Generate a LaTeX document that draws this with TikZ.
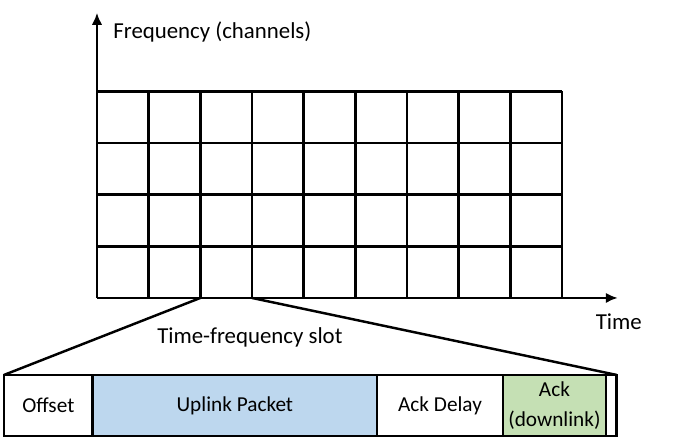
\documentclass[tikz,border=0pt]{standalone}
\usepackage{fontspec}
\setmainfont{Carlito}
\usetikzlibrary{positioning,arrows.meta}
\definecolor{uplink fill}{HTML}{BDD7EE}
\definecolor{ack fill}{HTML}{C5E0B4}
\tikzset{
  gridline/.style={draw=black, line width=1.4pt},
  axis/.style={draw=black, line width=1.4pt, -{Latex[length=2.4mm,width=2.1mm]}},
  axistext/.style={font=\fontsize{13}{15}\selectfont, inner sep=0pt},
  field/.style={draw=black, line width=1.4pt, minimum height=1.219cm,
    inner sep=0pt, outer sep=0pt, anchor=west, align=center,
    font=\fontsize{12.1}{17}\selectfont}
  }
\tikzstyle{zoomline} = [draw, line width=1.4pt, -]

\begin{document}
\begin{tikzpicture}[x=1.0334cm, y=1.0334cm]
  \useasboundingbox (-1.877,-2.806) rectangle (11.42,5.767);

  \coordinate (origin) at (0,0);
  \coordinate (freq tip) at (0,5.52);
  \coordinate (time tip) at (10.08,0);
  \coordinate (slot west) at (2,0);
  \coordinate (slot east) at (3,0);

  % time-frequency grid
  \foreach \col in {1,...,9} {
    \draw[gridline] (\col,0) -- (\col,4);
  }
  \foreach \row in {1,...,4} {
    \draw[gridline] (0,\row) -- (9,\row);
  }
  \path[axis] (origin) -- (freq tip);
  \path[axis] (origin) -- (time tip);

  \node[axistext, anchor=west] (freq) at (0.31,5.15) {Frequency (channels)};
  \node[axistext] (time) at (10.1,-0.46) {Time};
  \node[axistext, anchor=west] (slot) at (1.16,-0.755) {Time-frequency slot};

  % one slot, zoomed
  \node[field, minimum width=1.774cm] (offset) at (-1.80,-2.08) {Offset};
  \node[field, minimum width=5.687cm, fill=uplink fill, right=0pt of offset] (uplink) {Uplink Packet};
  \node[field, minimum width=2.521cm, right=0pt of uplink] (ackdelay) {Ack Delay};
  \node[field, minimum width=2.056cm, fill=ack fill, right=0pt of ackdelay] (ack) {Ack\\(downlink)};
  \node[field, minimum width=0.217cm, right=0pt of ack] (guard) {};

  \path[zoomline] (slot west) -- (offset.north west);
  \path[zoomline] (slot east) -- (guard.north east);
\end{tikzpicture}
\end{document}
